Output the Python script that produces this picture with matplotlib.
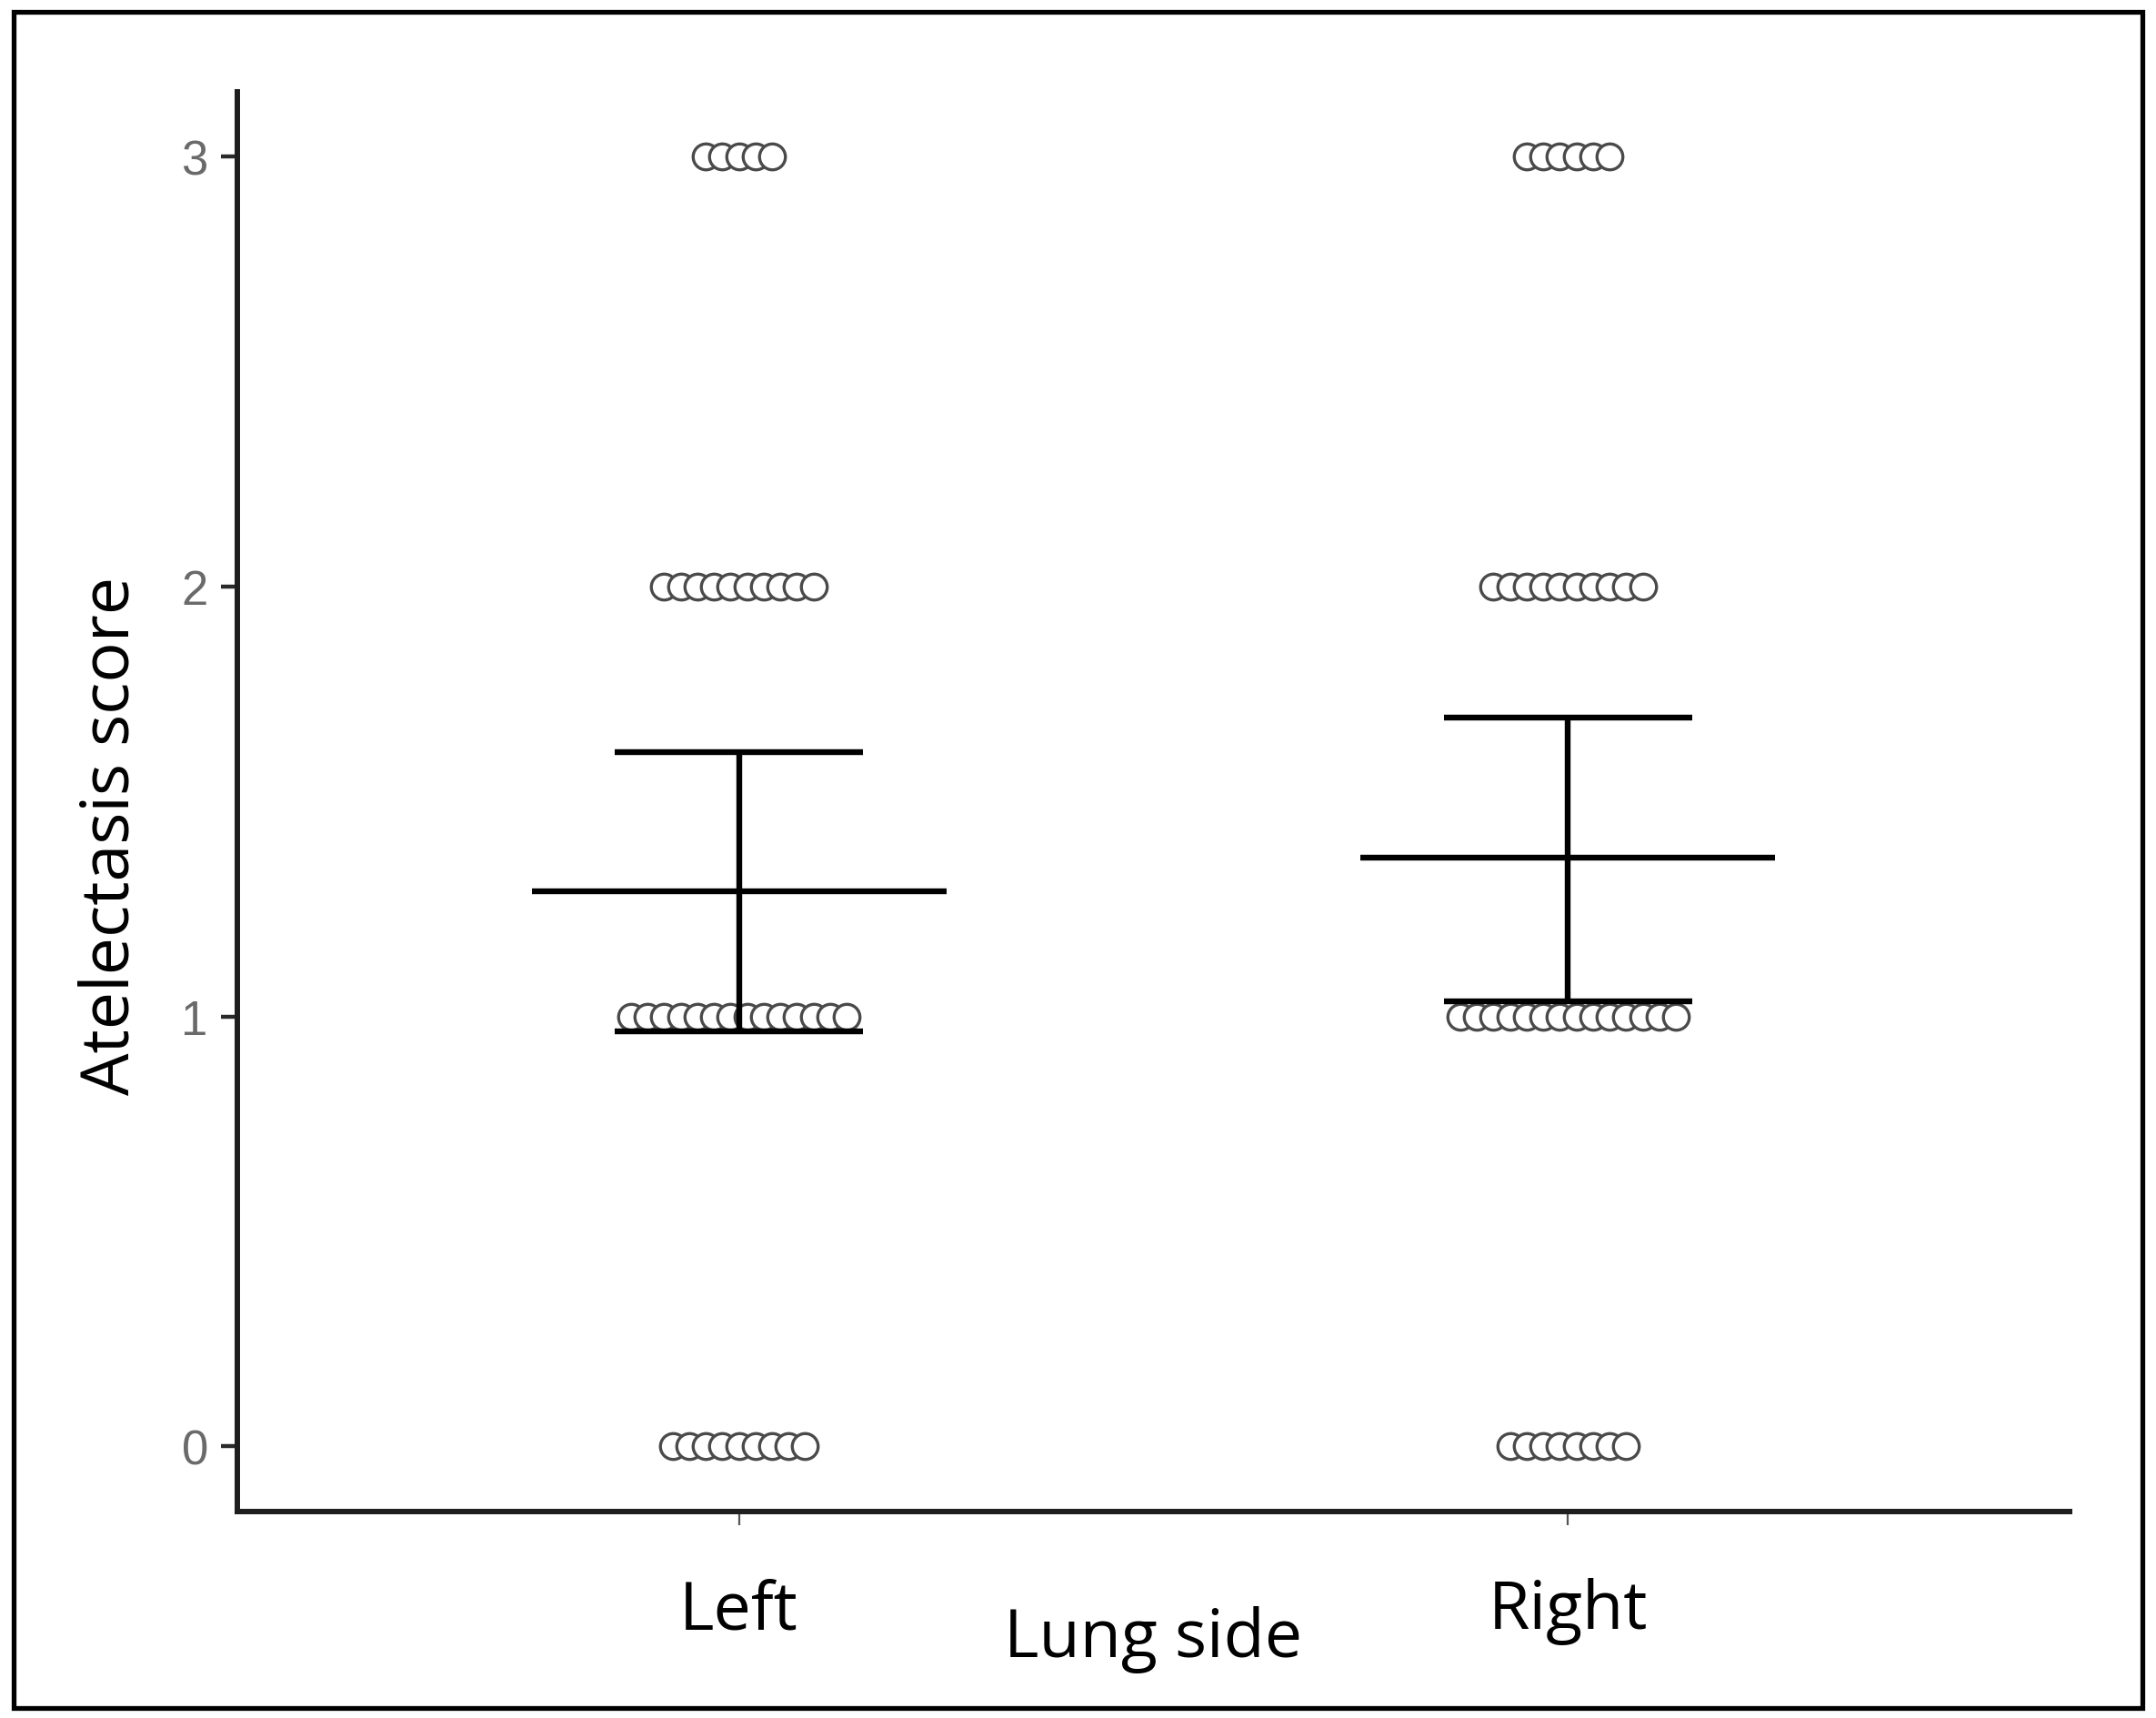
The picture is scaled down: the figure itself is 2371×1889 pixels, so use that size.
import numpy as np
import matplotlib
matplotlib.use('Agg')
import matplotlib.pyplot as plt
from matplotlib.patches import Rectangle

# data
groups = ['Left', 'Right']
group_pos = [1, 2]
score_levels = [0, 1, 2, 3]
left_counts = [9, 14, 10, 5]
right_counts = [8, 14, 10, 6]
means = [1.29, 1.37]
ci_low = [0.965, 1.035]
ci_high = [1.615, 1.695]

label_font = 'Open Sans'
tick_font = 'Liberation Sans'


def plot():
    fig = plt.figure(figsize=(23.71, 18.90), dpi=100)
    ax = fig.add_axes([0.110, 0.120, 0.850, 0.826])

    # dot rows, one circle per observation, spread sideways around the group
    step = 0.02
    for pos, counts in zip(group_pos, [left_counts, right_counts]):
        for level, n in zip(score_levels, counts):
            xs = pos + (np.arange(n) - (n - 1) / 2) * step
            ax.plot(xs, np.full(n, level), 'o', ms=20.5, mfc='white',
                    mec='#4a4a4a', mew=2.4, zorder=3, clip_on=False)

    # mean line and CI error bars
    for pos, m, lo, hi in zip(group_pos, means, ci_low, ci_high):
        ax.hlines(m, pos - 0.25, pos + 0.25, color='black', lw=4.6, zorder=5)
        ax.vlines(pos, lo, hi, color='black', lw=4.6, zorder=5)
        ax.hlines([lo, hi], pos - 0.15, pos + 0.15, color='black', lw=4.6, zorder=5)

    ax.set_xlim(0.395, 2.605)
    ax.set_ylim(-0.152, 3.15)

    ax.set_yticks(score_levels)
    ax.set_yticklabels([str(s) for s in score_levels], fontsize=38,
                       family=tick_font, color='#6a6a6a')
    ax.set_xticks(group_pos)
    ax.set_xticklabels(groups, fontsize=53, family=label_font, color='black')

    ax.tick_params(axis='y', length=13, width=3.2, color='#2a2a2a', pad=10)
    ax.tick_params(axis='x', length=11, width=1.6, color='#555555', pad=41)

    ax.set_xlabel('Lung side', fontsize=53, family=label_font, color='black')
    ax.xaxis.label.set_va('baseline')
    ax.xaxis.set_label_coords(0.5, -0.102)
    ax.set_ylabel('Atelectasis score', fontsize=53, family=label_font, color='black')
    ax.yaxis.label.set_va('baseline')
    ax.yaxis.set_label_coords(-0.059, 0.477)

    ax.spines['top'].set_visible(False)
    ax.spines['right'].set_visible(False)
    for side in ['left', 'bottom']:
        ax.spines[side].set_linewidth(4.3)
        ax.spines[side].set_color('#1e1e1e')

    # black frame round the whole picture
    W, H = 2371, 1890
    fig.patches.append(Rectangle((14.5 / W, 11 / H), (2356 - 14.5) / W, (1876 - 11) / H,
                                 transform=fig.transFigure, fill=False,
                                 edgecolor='black', linewidth=3.8))
    return fig


fig = plot()
fig.savefig('out.png', dpi=100, facecolor='white')
